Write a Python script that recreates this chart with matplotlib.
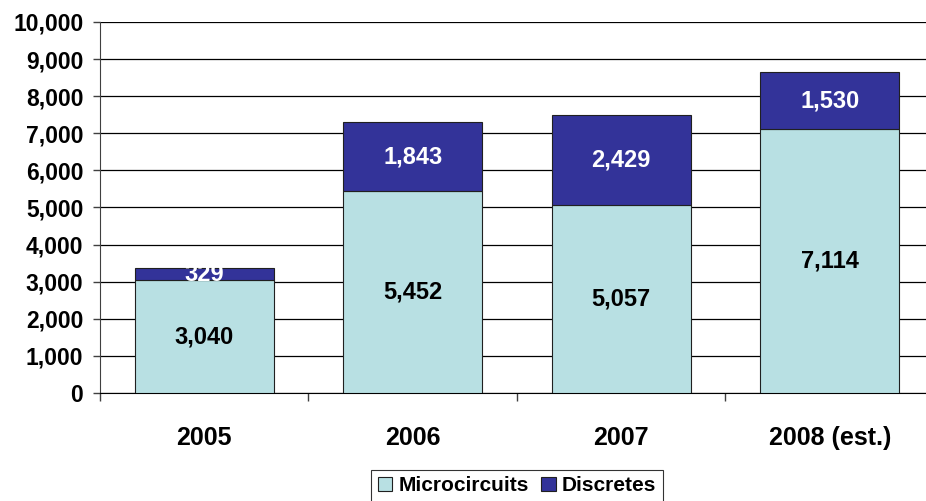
import numpy as np
import matplotlib.pyplot as plt
from matplotlib.ticker import FuncFormatter, FixedLocator

plt.rcParams['font.family'] = ['Liberation Sans', 'DejaVu Sans']
plt.rcParams['font.weight'] = 'bold'

# data
years = ['2005', '2006', '2007', '2008 (est.)']
microcircuits = [3040, 5452, 5057, 7114]
discretes = [329, 1843, 2429, 1530]

micro_color = '#B8E0E3'
disc_color = '#333399'

fig = plt.figure(figsize=(9.26, 5.01), dpi=100)
# axes runs slightly past the right edge, as in the original
ax = fig.add_axes([0.108, 0.2156, 0.9006, 0.7405])

x = np.arange(len(years))
w = 0.667
ax.bar(x, microcircuits, w, color=micro_color, edgecolor='#202020', linewidth=0.8,
       label='Microcircuits', zorder=3)
ax.bar(x, discretes, w, bottom=microcircuits, color=disc_color, edgecolor='#202020',
       linewidth=0.8, label='Discretes', zorder=3)

for i in range(len(years)):
    ax.text(x[i], microcircuits[i] / 2, f'{microcircuits[i]:,}', ha='center', va='center',
            fontsize=17, fontweight='bold', color='black', zorder=4)
    ax.text(x[i], microcircuits[i] + discretes[i] / 2, f'{discretes[i]:,}', ha='center',
            va='center', fontsize=17, fontweight='bold', color='white', zorder=4)

ax.set_xlim(-0.5, len(years) - 0.5)
ax.set_ylim(0, 10000)
ax.set_yticks(np.arange(0, 10001, 1000))
ax.yaxis.set_major_formatter(FuncFormatter(lambda v, p: f'{int(v):,}'))
ax.yaxis.grid(True, color='black', linewidth=0.9, zorder=0)
ax.set_axisbelow(True)

ax.set_xticks(x)
ax.set_xticklabels(years)
ax.xaxis.set_minor_locator(FixedLocator(np.arange(-0.5, len(years), 1.0)))
ax.tick_params(axis='x', which='major', length=0, pad=24, labelsize=18)
ax.tick_params(axis='x', which='minor', length=6, width=1, direction='out', color='#404040')
ax.tick_params(axis='y', length=5, width=1, pad=7, labelsize=16.5, color='#404040')

for s in ['top', 'right']:
    ax.spines[s].set_visible(False)
ax.spines['left'].set_color('#404040')
ax.spines['bottom'].set_color('black')

leg = ax.legend(loc='upper center', bbox_to_anchor=(0.5, -0.18), ncol=2, frameon=True,
                fancybox=False, edgecolor='black', handlelength=0.7,
                handleheight=0.7, handletextpad=0.3, columnspacing=0.6, borderpad=0.3,
                prop={'weight': 'bold', 'size': 15})
leg.get_frame().set_linewidth(0.8)

fig.savefig('out.png', dpi=100)
